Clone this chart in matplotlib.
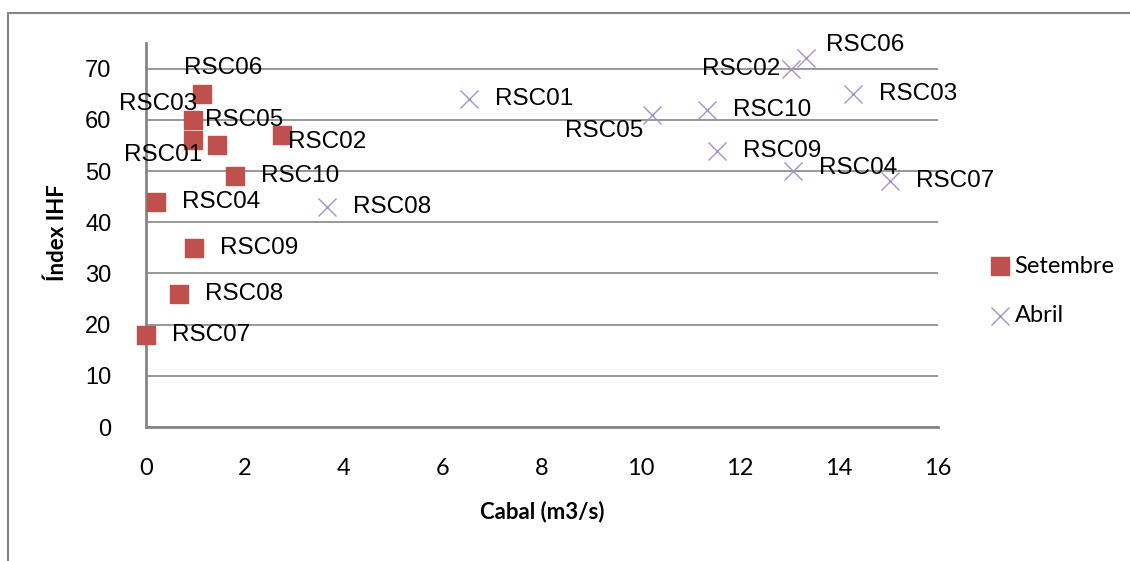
import matplotlib
matplotlib.use("Agg")
import matplotlib.pyplot as plt
from matplotlib.patches import Rectangle

stations = ["RSC01", "RSC02", "RSC03", "RSC04", "RSC05",
            "RSC06", "RSC07", "RSC08", "RSC09", "RSC10"]

# Setembre
set_cabal = [0.94, 2.74, 0.94, 0.21, 1.44, 1.13, 0.0, 0.67, 0.96, 1.79]
set_ihf = [56, 57, 60, 44, 55, 65, 18, 26, 35, 49]

# Abril
abr_cabal = [6.53, 13.03, 14.29, 13.08, 10.22, 13.33, 15.04, 3.66, 11.54, 11.34]
abr_ihf = [64, 70, 65, 50, 61, 72, 48, 43, 54, 62]

x_ticks = [0, 2, 4, 6, 8, 10, 12, 14, 16]
y_ticks = [0, 10, 20, 30, 40, 50, 60, 70]

# label offsets in pixels (dx, dy, ha); default is to the right of the point
set_offsets = {
    "RSC01": (10, -15, "right"),
    "RSC02": (6, -7, "left"),
    "RSC03": (5, 16, "right"),
    "RSC05": (-12, 25, "left"),
    "RSC06": (-18, 26, "left"),
}
abr_offsets = {
    "RSC02": (-11, 0, "right"),
    "RSC04": (26, 3, "left"),
    "RSC05": (-9, -16, "right"),
    "RSC06": (20, 13, "left"),
}

grid_col = "#868686"
label_font = "Liberation Sans"
narrow_font = "Lato"

fig = plt.figure(figsize=(11.3, 5.61), dpi=100)
fig.patches.append(Rectangle((8 / 1130, -0.1), 1.2, 1 - 13 / 561 + 0.1,
                             transform=fig.transFigure, fill=False,
                             edgecolor=grid_col, linewidth=1.5))
ax = fig.add_axes([146 / 1130, 1 - 427 / 561, (938 - 146) / 1130, (427 - 43) / 561])

ax.set_xlim(0, 16)
ax.set_ylim(0, 75)
ax.set_xticks(x_ticks)
ax.set_yticks(y_ticks)
ax.grid(axis="y", color=grid_col, linewidth=1.2)
ax.set_axisbelow(True)
for side in ["top", "right"]:
    ax.spines[side].set_visible(False)
for side in ["left", "bottom"]:
    ax.spines[side].set_color(grid_col)
    ax.spines[side].set_linewidth(2)
ax.tick_params(length=0)
ax.tick_params(axis="y", pad=25, labelsize=17)
ax.tick_params(axis="x", pad=22, labelsize=17)
for t in ax.get_yticklabels():
    t.set_fontfamily(label_font)
for t in ax.get_xticklabels():
    t.set_fontfamily(narrow_font)

ax.scatter(set_cabal, set_ihf, marker="s", s=13.5 ** 2, color="#C0504D",
           label="Setembre", clip_on=False, zorder=3)
ax.scatter(abr_cabal, abr_ihf, marker="x", s=13 ** 2, color="#A493C9",
           linewidths=1.0, label="Abril", clip_on=False, zorder=3)

for name, x, y in zip(stations, set_cabal, set_ihf):
    dx, dy, ha = set_offsets.get(name, (26, 0, "left"))
    ax.annotate(name, (x, y), xytext=(dx, dy), textcoords="offset pixels",
                ha=ha, va="center", fontsize=17.5, family=label_font, zorder=4)
for name, x, y in zip(stations, abr_cabal, abr_ihf):
    dx, dy, ha = abr_offsets.get(name, (26, 0, "left"))
    ax.annotate(name, (x, y), xytext=(dx, dy), textcoords="offset pixels",
                ha=ha, va="center", fontsize=17.5, family=label_font, zorder=4)

ax.set_xlabel("Cabal (m3/s)", fontsize=16, fontweight="bold",
              family=narrow_font, labelpad=16)
fig.text(57 / 1130, 1 - 233 / 561, "Índex IHF", rotation=90, ha="center",
         va="center", fontsize=16, fontweight="bold", family=narrow_font)

leg = ax.legend(loc="center left", bbox_to_anchor=(1.052, 0.355), frameon=False,
                prop={"family": narrow_font, "size": 17}, handletextpad=0.1,
                labelspacing=1.2, borderaxespad=0, handlelength=1.0)

fig.savefig("out.png", dpi=100)
